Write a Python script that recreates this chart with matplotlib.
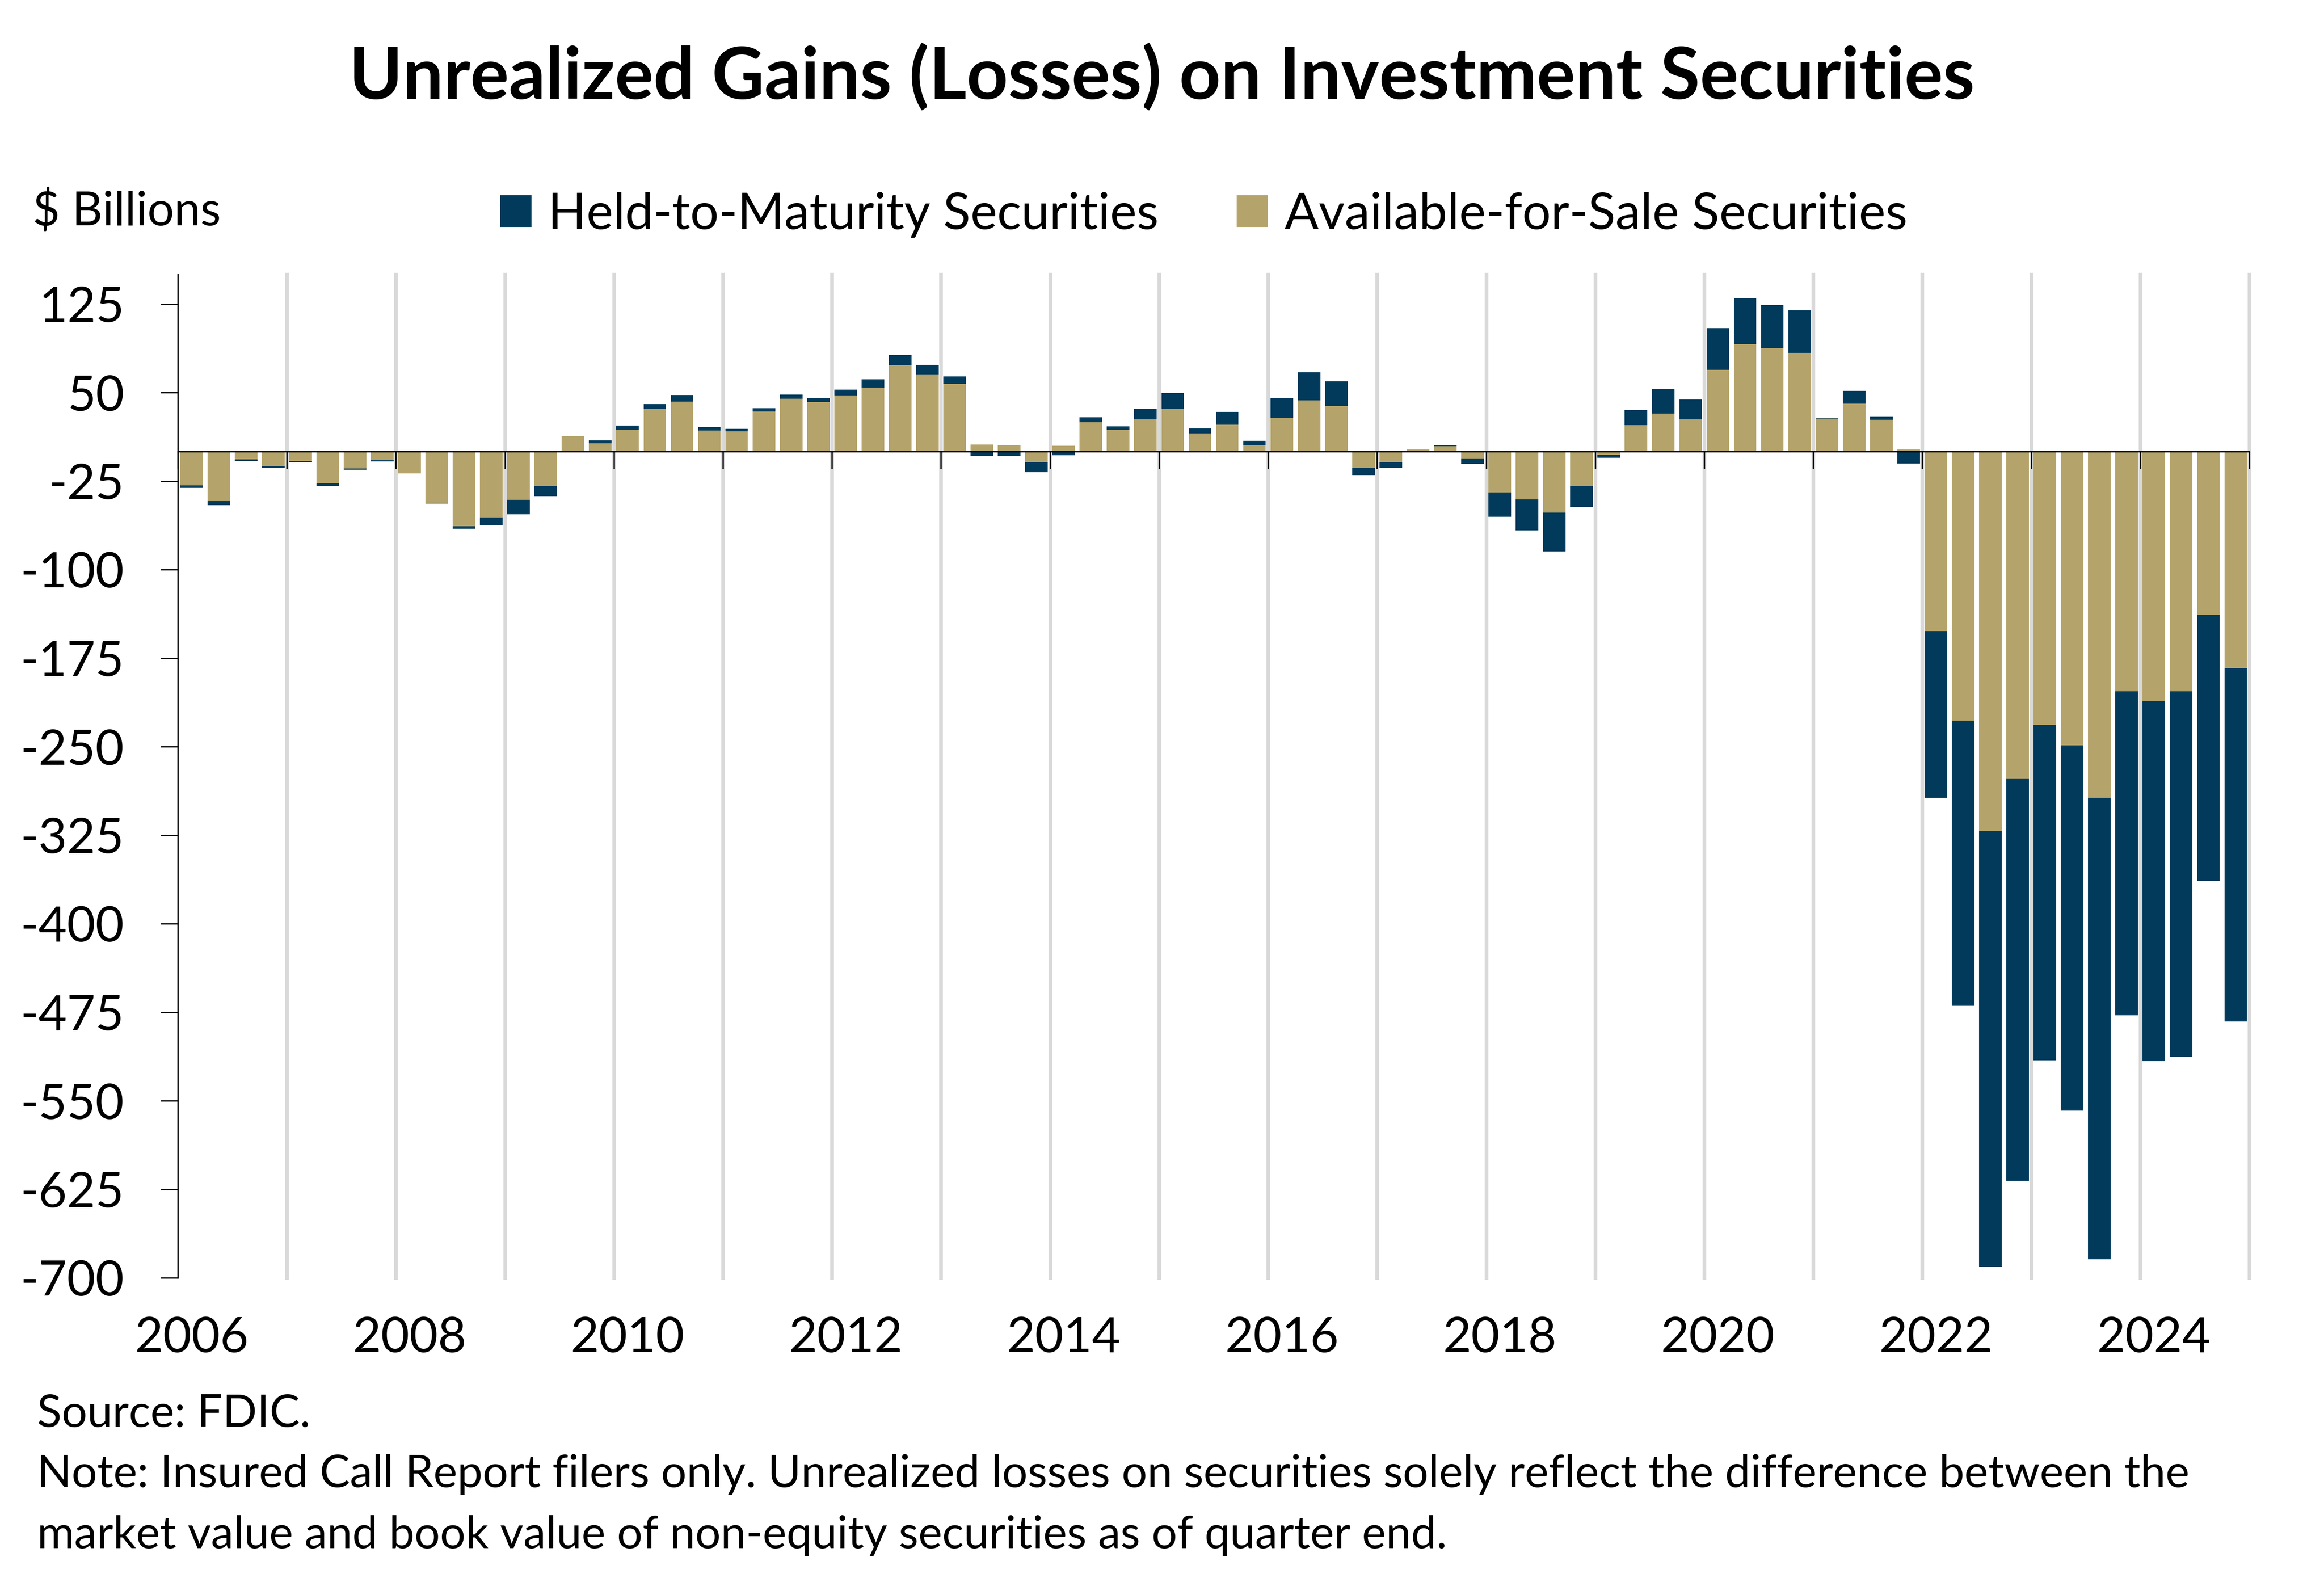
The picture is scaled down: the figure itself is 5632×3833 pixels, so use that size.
import numpy as np
import matplotlib
matplotlib.use("Agg")
import matplotlib.pyplot as plt
from matplotlib.patches import Patch
from matplotlib.transforms import blended_transform_factory

# quarterly values, $ billions, 2006Q1 - 2024Q4
quarters = [f"{y}Q{q}" for y in range(2006, 2025) for q in range(1, 5)]

afs = [
    -28.5, -42.0, -6.6, -12.3,     # 2006
    -7.9, -27.0, -14.2, -7.4,      # 2007
    -18.6, -43.2, -63.3, -56.4,    # 2008
    -41.0, -29.2, 13.0, 6.9,       # 2009
    18.2, 36.3, 42.2, 17.7,        # 2010
    17.2, 33.9, 44.8, 41.8,        # 2011
    47.4, 54.2, 73.1, 65.5,        # 2012
    57.4, 6.0, 5.2, -9.0,          # 2013
    5.0, 24.9, 18.7, 27.3,         # 2014
    36.5, 15.5, 22.9, 5.2,         # 2015
    28.7, 43.4, 38.6, -13.9,       # 2016
    -9.0, 1.8, 4.6, -6.2,          # 2017
    -34.5, -40.6, -51.8, -28.9,    # 2018
    -2.8, 22.5, 32.3, 27.3,        # 2019
    69.3, 90.8, 87.6, 83.7,        # 2020
    28.1, 40.4, 26.9, 1.8,         # 2021
    -152.0, -227.8, -321.6, -277.0,  # 2022
    -231.3, -248.9, -293.5, -203.2,  # 2023
    -211.2, -203.2, -138.5, -183.6,  # 2024
]

htm = [
    -2.4, -3.6, -1.5, -1.4,
    -1.2, -2.2, -1.3, -0.9,
    0.7, -1.0, -2.2, -6.2,
    -12.2, -8.6, -0.5, 2.4,
    3.9, 3.9, 5.6, 2.9,
    1.9, 2.7, 3.6, 3.4,
    5.2, 7.0, 8.8, 8.0,
    6.1, -3.8, -3.8, -8.5,
    -3.0, 4.2, 2.8, 8.8,
    13.3, 4.2, 10.8, 4.0,
    16.5, 23.9, 21.0, -6.0,
    -4.9, 0.0, 1.0, -4.2,
    -20.7, -26.1, -32.7, -17.9,
    -2.4, 12.8, 20.5, 16.9,
    35.1, 39.1, 36.7, 36.0,
    0.6, 11.0, 2.6, -10.0,
    -141.5, -241.8, -368.8, -340.7,
    -284.5, -309.6, -390.9, -274.5,
    -305.1, -309.6, -225.3, -299.1,
]

years = list(range(2006, 2026))
label_years = list(range(2006, 2025, 2))
y_ticks = list(range(-700, 126, 75))

NAVY = "#023a5c"
GOLD = "#b4a36a"
GRID = "#d9d9d9"

plt.rcParams["font.family"] = ["Lato", "DejaVu Sans"]

fig = plt.figure(figsize=(14.08, 9.5825), dpi=400)
ax = fig.add_axes([431 / 5632, 737 / 3833, 5020 / 5632, 2431 / 3833])

x = np.arange(len(quarters))
afs = np.array(afs)
htm = np.array(htm)
# diverging stack: HTM sits on AFS only when both have the same sign
same_sign = np.sign(afs) == np.sign(htm)
htm_bottom = np.where(same_sign, afs, 0)

ax.bar(x, afs, width=0.83, color=GOLD, zorder=2)
ax.bar(x, htm, bottom=htm_bottom, width=0.83, color=NAVY, zorder=2)

# year boundaries
bounds = [(y - 2006) * 4 - 0.5 for y in years]
for b in bounds[1:]:
    ax.axvline(b, color=GRID, lw=1.6, zorder=1, clip_on=False)

ax.set_xlim(bounds[0], bounds[-1])
ax.set_ylim(-700, 150)

ax.spines["top"].set_visible(False)
ax.spines["right"].set_visible(False)
ax.spines["bottom"].set_position(("data", 0))
ax.spines["bottom"].set_zorder(3)
ax.spines["bottom"].set_linewidth(0.6)
ax.spines["left"].set_linewidth(0.6)

ax.set_xticks(bounds)
ax.set_xticklabels([])
ax.set_yticks(y_ticks)
ax.set_yticklabels([str(v) for v in y_ticks])
ax.tick_params(axis="both", direction="out", length=7.6, width=0.6, color="black")
ax.tick_params(axis="y", labelsize=21.4, pad=15.8)

# year labels under the plot, centred on the Q1 bar
trans = blended_transform_factory(ax.transData, fig.transFigure)
for yr in label_years:
    ax.text((yr - 2006) * 4, 0.1453, str(yr), transform=trans, ha="center",
            va="baseline", fontsize=21.4)

fig.text(0.5, 0.9376, "Unrealized Gains (Losses) on Investment Securities",
         ha="center", va="baseline", fontsize=31.5, fontweight="bold")
fig.text(0.014, 0.8576, "$ Billions", ha="left", va="baseline", fontsize=20.6)

handles = [Patch(facecolor=NAVY, label="Held-to-Maturity Securities"),
           Patch(facecolor=GOLD, label="Available-for-Sale Securities")]
fig.legend(handles=handles, loc="center", bbox_to_anchor=(0.518, 0.8643),
           ncol=2, frameon=False, fontsize=22, handlelength=0.62,
           handleheight=0.6, handletextpad=0.33, columnspacing=1.55,
           borderpad=0, borderaxespad=0)

fig.text(0.016, 0.0981, "Source: FDIC.", fontsize=19.7, va="baseline")
fig.text(0.016, 0.0600, "Note: Insured Call Report filers only. Unrealized losses on securities solely reflect the difference between the",
         fontsize=19.7, va="baseline")
fig.text(0.016, 0.0214, "market value and book value of non-equity securities as of quarter end.",
         fontsize=19.7, va="baseline")

fig.savefig("out.png", dpi=400)
